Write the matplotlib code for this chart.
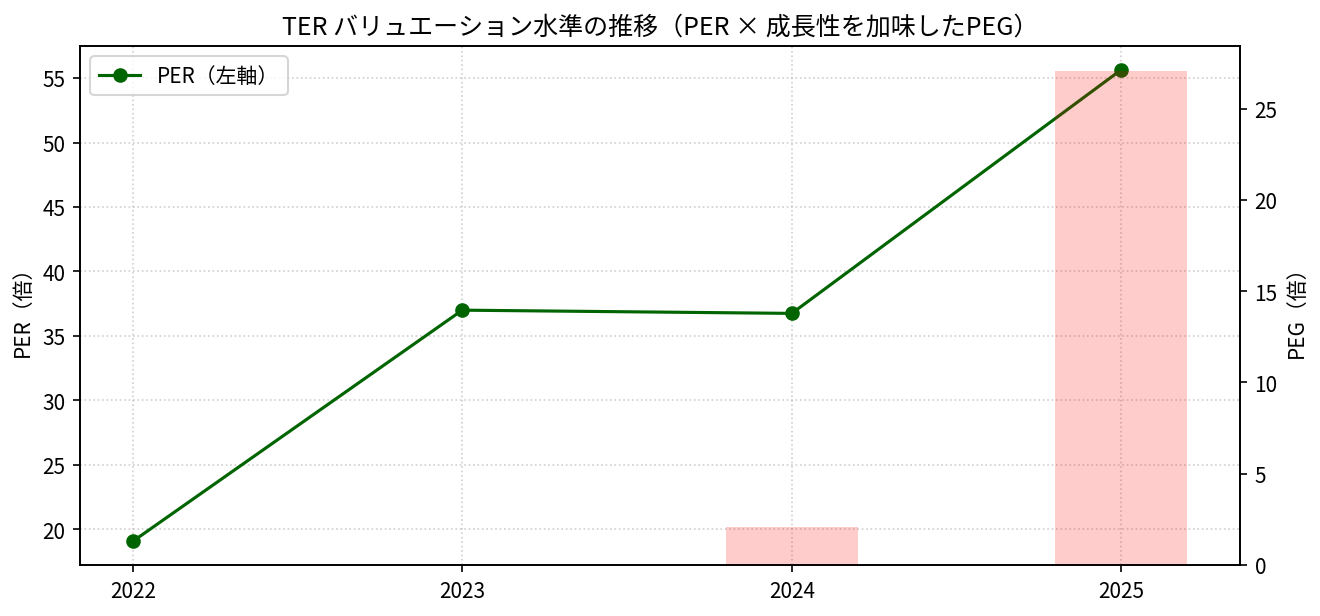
import matplotlib
matplotlib.use("Agg")
import matplotlib.pyplot as plt
import numpy as np

plt.rcParams["font.family"] = ["Noto Sans CJK JP", "DejaVu Sans"]

years = [2022, 2023, 2024, 2025]
per_values = [19.07, 37.0, 36.75, 55.65]
peg_values = [np.nan, np.nan, 2.08, 27.08]

fig, ax1 = plt.subplots(figsize=(8.8, 4.113), dpi=150)

ax1.plot(years, per_values, marker="o", color="darkgreen", label="PER（左軸）")
ax1.set_ylabel("PER（倍）")
ax1.grid(True, linestyle=":", alpha=0.6)

ax2 = ax1.twinx()
ax2.bar(years, peg_values, width=0.4, color="red", alpha=0.2, label="PEG（右軸）")
ax2.set_ylabel("PEG（倍）")

ax1.set_xticks(years)
ax1.set_xticklabels([str(y) for y in years])
ax1.legend(loc="upper left")
ax1.set_title("TER バリュエーション水準の推移（PER × 成長性を加味したPEG）")

fig.subplots_adjust(left=0.0606, right=0.9394, top=0.9238, bottom=0.0827)
fig.savefig("out.png", dpi=150)
